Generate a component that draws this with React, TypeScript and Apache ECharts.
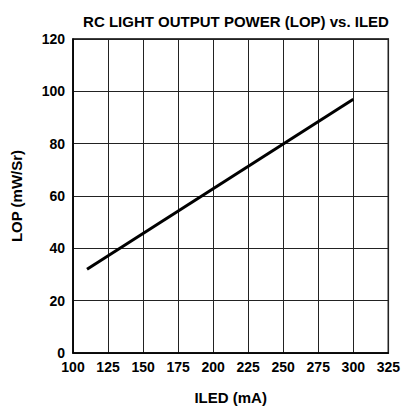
import React, { useEffect, useRef } from "react";
import * as echarts from "echarts";

const titleText = "RC LIGHT OUTPUT POWER (LOP) vs. ILED";
const xName = "ILED (mA)";
const yName = "LOP (mW/Sr)";
const iled = [110, 300];
const lop = [32, 97];

const FONT = "'Liberation Sans Narrow', 'Arial Narrow', 'Liberation Sans', sans-serif";

export default function App() {
  const ref = useRef<HTMLDivElement>(null);
  useEffect(() => {
    if (!ref.current) return;
    const chart = echarts.init(ref.current, undefined, { renderer: "svg" });
    chart.setOption({
      animation: false,
      backgroundColor: "#fff",
      title: {
        text: titleText,
        left: 231,
        textAlign: "center",
        top: 9,
        textStyle: { fontFamily: FONT, fontWeight: "bold", fontSize: 15, color: "#000" },
      },
      grid: {
        left: 73,
        right: 14,
        top: 39,
        bottom: 56,
        show: true,
        borderColor: "#000",
        borderWidth: 1.5,
      },
      xAxis: {
        type: "value",
        min: 100,
        max: 325,
        interval: 25,
        name: xName,
        nameLocation: "middle",
        nameGap: 37,
        nameTextStyle: { fontFamily: FONT, fontWeight: "bold", fontSize: 15, color: "#000" },
        axisLine: { show: true, lineStyle: { color: "#000", width: 1.5 } },
        axisTick: { show: false },
        axisLabel: { fontFamily: FONT, fontWeight: "bold", fontSize: 14, color: "#000", margin: 7 },
        splitLine: { show: true, lineStyle: { color: "#222", width: 1 } },
      },
      yAxis: {
        type: "value",
        min: 0,
        max: 120,
        interval: 20,
        name: yName,
        nameLocation: "middle",
        nameGap: 49,
        nameRotate: 90,
        nameTextStyle: { fontFamily: FONT, fontWeight: "bold", fontSize: 15, color: "#000" },
        axisLine: { show: true, lineStyle: { color: "#000", width: 1.5 } },
        axisTick: { show: false },
        axisLabel: {
          fontFamily: FONT,
          fontWeight: "bold",
          fontSize: 14,
          color: "#000",
          margin: 8,
          padding: [0, 0, 7, 0],
        },
        splitLine: { show: true, lineStyle: { color: "#222", width: 1 } },
      },
      series: [
        {
          type: "line",
          data: iled.map((x, i) => [x, lop[i]]),
          showSymbol: false,
          symbol: "none",
          lineStyle: { color: "#000", width: 3 },
        },
      ],
    });
    return () => chart.dispose();
  }, []);
  return (
    <div
      ref={ref}
      style={{ position: "fixed", left: 0, top: 0, width: 403, height: 410 }}
    />
  );
}
